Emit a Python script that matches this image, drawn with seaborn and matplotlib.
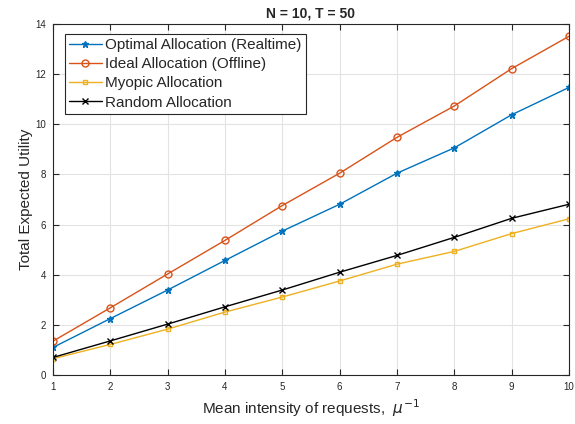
import pandas as pd
import matplotlib.pyplot as plt
import seaborn as sns

# data
intensity = [1, 2, 3, 4, 5, 6, 7, 8, 9, 10]
optimal_rt = [1.10, 2.25, 3.39, 4.57, 5.74, 6.81, 8.05, 9.06, 10.38, 11.47]
ideal_off = [1.35, 2.68, 4.03, 5.37, 6.76, 8.05, 9.48, 10.73, 12.22, 13.51]
myopic = [0.65, 1.22, 1.83, 2.51, 3.11, 3.75, 4.42, 4.93, 5.64, 6.23]
random_alloc = [0.70, 1.36, 2.03, 2.72, 3.39, 4.10, 4.77, 5.49, 6.25, 6.81]

series = [
    ("Optimal Allocation (Realtime)", optimal_rt, "#0072BD", "*", 5, True),
    ("Ideal Allocation (Offline)", ideal_off, "#D95319", "o", 5, False),
    ("Myopic Allocation", myopic, "#EDB120", "s", 3.5, False),
    ("Random Allocation", random_alloc, "black", "x", 4, True),
]

sns.set_style("ticks")
plt.rcParams['font.family'] = ['Liberation Sans', 'DejaVu Sans']

fig = plt.figure(figsize=(5.75, 4.24), dpi=100)
ax = fig.add_axes([53 / 575, 49 / 424, 516 / 575, 351 / 424])

for name, vals, col, mk, ms, filled in series:
    df = pd.DataFrame({"x": intensity, "y": vals})
    sns.lineplot(data=df, x="x", y="y", ax=ax, color=col, marker=mk, markersize=ms,
                 linewidth=1.0, label=name,
                 markerfacecolor=col if filled else "none",
                 markeredgecolor=col, markeredgewidth=1.0)

ax.set_xlim(1, 10)
ax.set_ylim(0, 14)
ax.set_xticks(range(1, 11))
ax.set_yticks(range(0, 15, 2))
ax.grid(True, color="#e3e3e3", linewidth=0.8)
ax.set_axisbelow(True)
ax.tick_params(direction="in", top=True, right=True, labelsize=7, length=4,
               width=0.8, colors="#262626", pad=5)
for s in ax.spines.values():
    s.set_color("#262626")
    s.set_linewidth(0.8)

ax.set_xlabel(r"Mean intensity of requests,  $\mu^{-1}$", fontsize=11, color="#262626")
ax.set_ylabel("Total Expected Utility", fontsize=11, color="#262626", labelpad=2)
ax.set_title("N = 10, T = 50", fontsize=10, fontweight="bold", pad=5)

leg = ax.legend(loc="upper left", bbox_to_anchor=(0.023, 0.972), fontsize=11,
                frameon=True, fancybox=False, borderaxespad=0, handlelength=2.1,
                handletextpad=0.25, borderpad=0.3, labelspacing=0.33)
leg.get_frame().set_edgecolor("#262626")
leg.get_frame().set_linewidth(0.8)
leg.get_frame().set_alpha(1)

fig.savefig("out.png", dpi=100)
